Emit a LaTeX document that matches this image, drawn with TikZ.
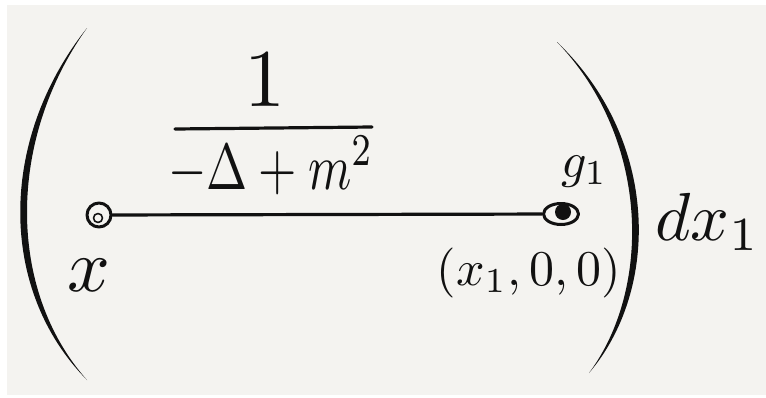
\documentclass[tikz,border=0pt]{standalone}
\usepackage{amsmath}
\usetikzlibrary{shapes.geometric}
\definecolor{bgc}{HTML}{F4F3F0}
\definecolor{inkc}{HTML}{111111}
\begin{document}
\begin{tikzpicture}[x=1pt,y=-1pt,
  ink/.style={draw=inkc, line cap=round, line join=round},
  lbl/.style={inner sep=0pt, outer sep=0pt, text=inkc},
  vertex/.style={circle, ink, line width=3pt, minimum size=24pt, inner sep=0pt},
  bigvertex/.style={ellipse, ink, line width=3pt, minimum width=35pt, minimum height=21pt, inner sep=0pt}]
\useasboundingbox (0,0) rectangle (766,397);
\fill[white] (0,0) rectangle (766,397);
\fill[bgc] (7,5) rectangle (766,395);
% big parentheses
\fill[inkc] (87,28) .. controls (-2,140) and (-2,290) .. (87,380)
  .. controls (7,290) and (7,140) .. (87,28) -- cycle;
\fill[inkc] (557,42) .. controls (660,140) and (660,290) .. (589,373)
  .. controls (651,290) and (651,140) .. (557,42) -- cycle;
% fraction
\node[lbl, anchor=base, scale=8.2] (num) at (265,106) {$1$};
\draw[ink, line width=3.2pt] (175,129) -- (372,127);
\node[lbl, anchor=base, xscale=4.93, yscale=6.5] (den) at (271,189) {$-\Delta+m^2$};
% vertices and propagator
\node[vertex] (a) at (99,215) {};
\node[bigvertex] (b) at (561,214) {};
\draw[ink, line width=1.6pt] (98,218) circle (4.5);
\fill[inkc] (563,212) circle (8);
\draw[ink, line width=3.2pt] (a) -- (b);
% labels
\node[lbl, anchor=base, scale=7.5] (xl) at (89,291) {$x$};
\node[lbl, anchor=base west, scale=5] (gl) at (561,177) {$g_1$};
\node[lbl, anchor=base, scale=5] (pl) at (529,285) {$(x_1,0,0)$};
\node[lbl, anchor=base west, scale=6.8] (dl) at (655,240) {$dx_1$};
\end{tikzpicture}
\end{document}
